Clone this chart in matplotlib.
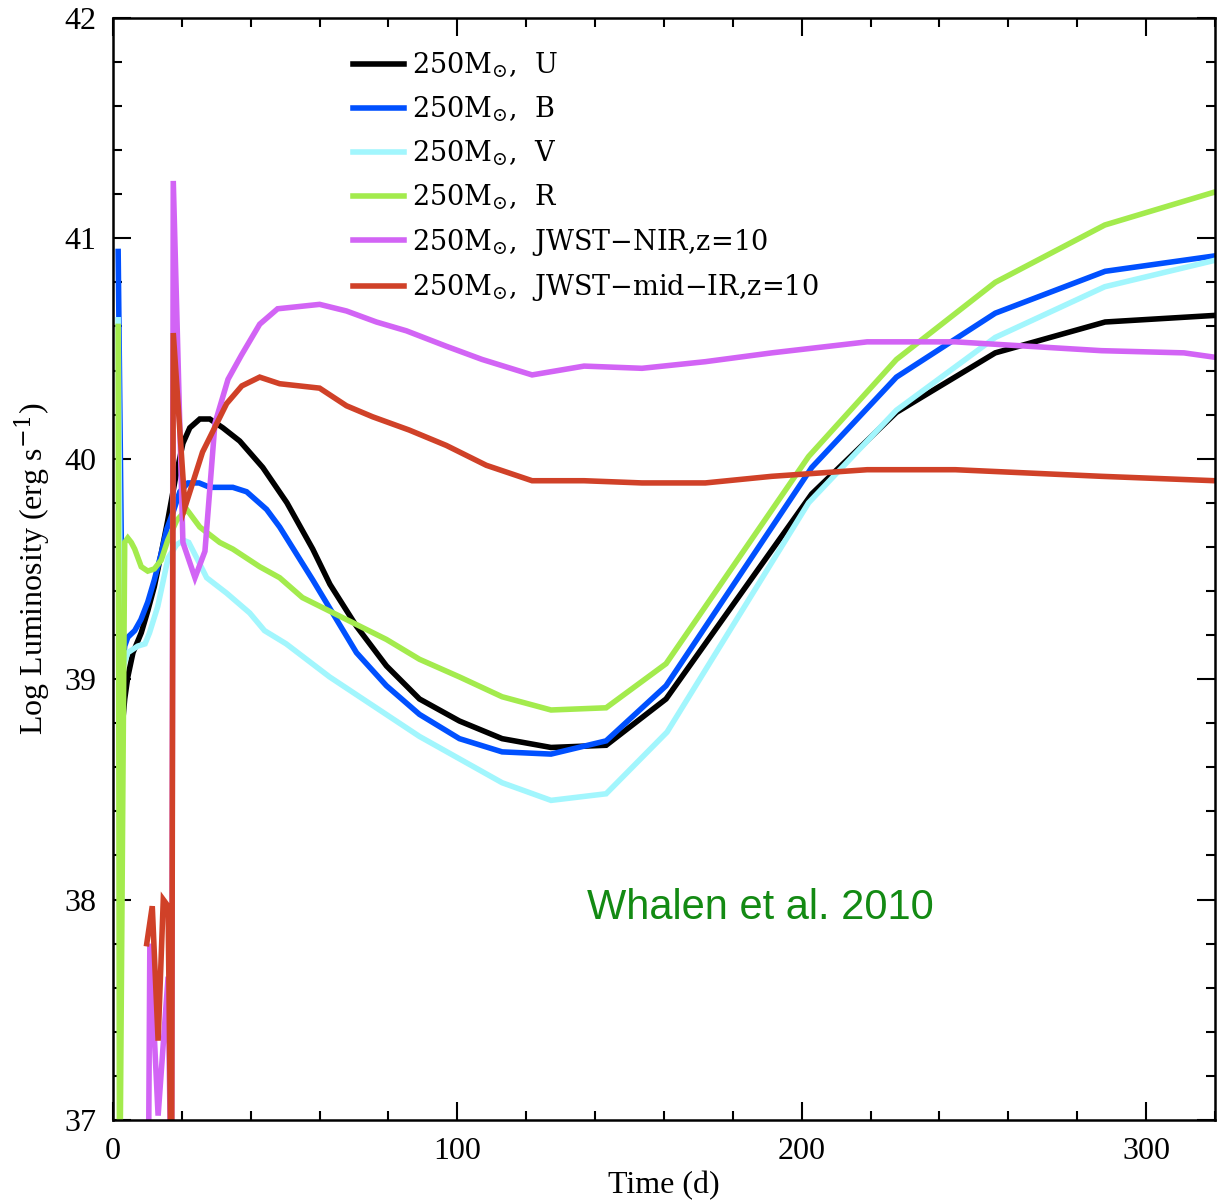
import numpy as np
import matplotlib
matplotlib.use("Agg")
import matplotlib.pyplot as plt
from matplotlib.ticker import MultipleLocator

plt.rcParams['font.family'] = ['DejaVu Serif']
plt.rcParams['mathtext.fontset'] = 'dejavuserif'

# light curves of a 250 Msun pair-instability SN, time in days, log L in erg/s
t_U = [2.6, 3.4, 4.3, 5.8, 8.2, 10.1, 12.0, 14.0, 15.9, 18.0, 20.3, 22.3, 25.2, 28.1,
       31.9, 36.8, 43.5, 50.5, 58.0, 63.0, 70.7, 79.4, 89.0, 100.6, 113.0, 127.2,
       143.2, 160.6, 202.9, 227.5, 256.2, 288.1, 320.0]
L_U = [38.77, 38.91, 39.01, 39.12, 39.21, 39.31, 39.42, 39.57, 39.72, 39.90, 40.07,
       40.14, 40.18, 40.18, 40.14, 40.08, 39.96, 39.80, 39.59, 39.43, 39.24, 39.06,
       38.91, 38.81, 38.73, 38.69, 38.70, 38.91, 39.84, 40.21, 40.48, 40.62, 40.65]

t_B = [1.5, 2.8, 3.4, 4.3, 6.3, 8.1, 10.1, 12.0, 14.0, 15.6, 17.5, 19.4, 21.8, 25.0,
       28.1, 34.8, 38.8, 44.6, 48.4, 58.0, 70.7, 79.4, 89.0, 100.6, 113.0, 127.2,
       143.2, 160.6, 202.9, 227.5, 256.2, 288.1, 320.0]
L_B = [40.94, 39.05, 39.15, 39.19, 39.22, 39.27, 39.35, 39.45, 39.57, 39.68, 39.76,
       39.85, 39.89, 39.89, 39.87, 39.87, 39.85, 39.77, 39.69, 39.45, 39.12, 38.97,
       38.84, 38.73, 38.67, 38.66, 38.72, 38.97, 39.96, 40.37, 40.66, 40.85, 40.92]

t_V = [1.5, 2.3, 3.0, 4.3, 7.2, 9.3, 10.6, 13.0, 16.0, 18.5, 20.5, 22.0, 24.3, 27.2,
       33.0, 39.7, 44.0, 50.3, 62.9, 89.0, 113.0, 127.2, 143.2, 160.9, 202.0, 227.5,
       256.2, 288.0, 320.0]
L_V = [40.63, 38.85, 39.06, 39.12, 39.15, 39.16, 39.21, 39.33, 39.55, 39.61, 39.63,
       39.62, 39.55, 39.46, 39.39, 39.30, 39.22, 39.16, 39.01, 38.74, 38.53, 38.45,
       38.48, 38.76, 39.80, 40.22, 40.55, 40.78, 40.90]

t_R = [1.5, 1.9, 3.4, 4.3, 5.3, 6.3, 8.2, 10.1, 12.0, 14.0, 15.9, 18.5, 21.4, 25.2,
       31.0, 34.8, 42.6, 48.4, 55.0, 79.4, 89.0, 100.6, 113.0, 127.2, 143.2, 160.6,
       202.0, 227.5, 256.2, 288.0, 320.0]
L_R = [40.60, 36.50, 39.62, 39.64, 39.62, 39.59, 39.51, 39.49, 39.50, 39.54, 39.63,
       39.72, 39.77, 39.69, 39.62, 39.59, 39.51, 39.46, 39.37, 39.18, 39.09, 39.01,
       38.92, 38.86, 38.87, 39.07, 40.01, 40.45, 40.80, 41.06, 41.21]

t_NIR = [10.2, 10.7, 13.1, 16.0, 17.0, 17.5, 20.3, 23.8, 26.7, 29.6, 33.4, 37.3, 42.6,
         47.8, 60.0, 67.8, 76.5, 85.2, 96.8, 107.2, 121.7, 136.8, 153.6, 172.0, 191.3,
         219.0, 244.6, 287.0, 311.0, 320.0]
L_NIR = [36.50, 37.80, 37.02, 37.65, 36.50, 41.26, 39.62, 39.46, 39.58, 40.16, 40.36,
         40.47, 40.61, 40.68, 40.70, 40.67, 40.62, 40.58, 40.51, 40.45, 40.38, 40.42,
         40.41, 40.44, 40.48, 40.53, 40.53, 40.49, 40.48, 40.46]

t_MIR = [9.8, 11.4, 13.1, 14.6, 16.0, 17.0, 17.5, 20.9, 26.0, 33.0, 37.4, 42.6, 48.4,
         54.2, 60.0, 67.8, 75.4, 86.0, 96.8, 108.4, 121.7, 136.8, 153.6, 172.0, 191.3,
         219.0, 244.6, 287.0, 320.0]
L_MIR = [37.80, 37.97, 37.36, 38.00, 37.97, 36.50, 40.57, 39.78, 40.03, 40.25, 40.33,
         40.37, 40.34, 40.33, 40.32, 40.24, 40.19, 40.13, 40.06, 39.97, 39.90, 39.90,
         39.89, 39.89, 39.92, 39.95, 39.95, 39.92, 39.90]

series = [
    (t_U, L_U, '#000000', r'$\mathregular{250M_{\odot}}$,  U'),
    (t_B, L_B, '#0050ff', r'$\mathregular{250M_{\odot}}$,  B'),
    (t_V, L_V, '#a2f6fd', r'$\mathregular{250M_{\odot}}$,  V'),
    (t_R, L_R, '#a3eb4d', r'$\mathregular{250M_{\odot}}$,  R'),
    (t_NIR, L_NIR, '#d264f5', r'$\mathregular{250M_{\odot}}$,  JWST$-$NIR,z=10'),
    (t_MIR, L_MIR, '#d04128', r'$\mathregular{250M_{\odot}}$,  JWST$-$mid$-$IR,z=10'),
]

fig = plt.figure(figsize=(12.19, 12.02), dpi=100)
ax = fig.add_axes([0.0927, 0.0682, 0.904, 0.917])

for t, L, c, lab in series:
    ax.plot(t, L, color=c, lw=4, label=lab, solid_joinstyle='miter')

ax.set_xlim(0, 320)
ax.set_ylim(37, 42)
ax.xaxis.set_major_locator(MultipleLocator(100))
ax.xaxis.set_minor_locator(MultipleLocator(20))
ax.yaxis.set_major_locator(MultipleLocator(1))
ax.yaxis.set_minor_locator(MultipleLocator(0.2))
ax.tick_params(which='both', direction='in', top=True, right=True, width=1.5)
ax.tick_params(which='major', length=13)
ax.tick_params(which='minor', length=6.5)
ax.tick_params(axis='y', pad=12)
ax.tick_params(axis='x', pad=12)
for lab in ax.get_xticklabels() + ax.get_yticklabels():
    lab.set_family('Liberation Serif')
    lab.set_fontsize(23)
for s in ax.spines.values():
    s.set_linewidth(1.8)

ax.set_xlabel('Time (d)', family='Liberation Serif', fontsize=23, labelpad=4)
ax.set_ylabel(r'Log Luminosity (erg s$^{-1}$)', family='Liberation Serif',
              fontsize=23, labelpad=8)

leg = ax.legend(loc='upper left', bbox_to_anchor=(0.2178, 0.970), frameon=False,
                fontsize=19.5, handlelength=1.87, handletextpad=0.3,
                labelspacing=0.535, borderpad=0, borderaxespad=0)

ax.text(137.7, 37.91, 'Whalen et al. 2010', color='#138a13', fontsize=30,
        family='Liberation Sans', ha='left', va='baseline')

fig.savefig('out.png', dpi=100)
